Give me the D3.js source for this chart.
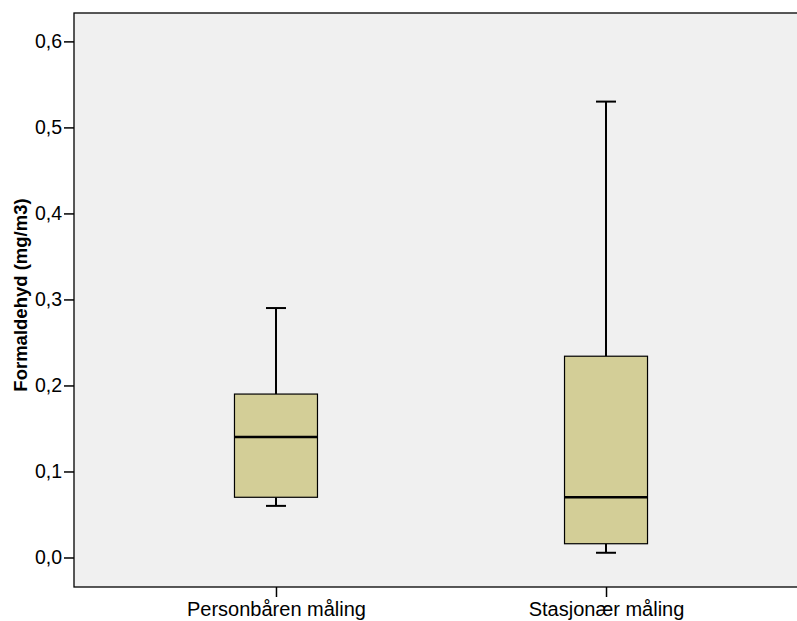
<!DOCTYPE html>
<html><head><meta charset="utf-8">
<script src="https://cdn.jsdelivr.net/npm/d3@7/dist/d3.min.js"></script>
<style>body{margin:0;background:#fff}svg{display:block}</style>
</head><body>
<svg id="c" width="797" height="621"></svg>
<script>
const categories = ["Personbåren måling", "Stasjonær måling"];
const whiskerLow = [0.06, 0.0055];
const q1 = [0.07, 0.016];
const median = [0.14, 0.07];
const q3 = [0.19, 0.234];
const whiskerHigh = [0.29, 0.53];
const yTicks = [0.0, 0.1, 0.2, 0.3, 0.4, 0.5, 0.6];
const yTitle = "Formaldehyd (mg/m3)";

const svg = d3.select("#c");
const L = 74, R = 808, T = 13, B = 587;
const font = "Arial, 'Liberation Sans', sans-serif";

const x = d3.scalePoint().domain(categories).range([L, R]).padding(0.612);
const y = d3.scaleLinear().domain([-0.0343, 0.633]).range([B, T]);

svg.append("rect").attr("x", L).attr("y", T).attr("width", R - L).attr("height", B - T)
  .attr("fill", "#f0f0f0").attr("stroke", "#000").attr("stroke-width", 1.3);

const boxW = 83, capW = 20;
const data = categories.map((c, i) => ({c, lo: whiskerLow[i], q1: q1[i], med: median[i], q3: q3[i], hi: whiskerHigh[i]}));
const g = svg.append("g").selectAll("g").data(data).join("g");
// whiskers
g.append("line").attr("x1", d => x(d.c)).attr("x2", d => x(d.c))
  .attr("y1", d => y(d.hi)).attr("y2", d => y(d.q3)).attr("stroke", "#000").attr("stroke-width", 2);
g.append("line").attr("x1", d => x(d.c)).attr("x2", d => x(d.c))
  .attr("y1", d => y(d.q1)).attr("y2", d => y(d.lo)).attr("stroke", "#000").attr("stroke-width", 2);
g.append("line").attr("x1", d => x(d.c) - capW/2).attr("x2", d => x(d.c) + capW/2)
  .attr("y1", d => y(d.hi)).attr("y2", d => y(d.hi)).attr("stroke", "#000").attr("stroke-width", 2);
g.append("line").attr("x1", d => x(d.c) - capW/2).attr("x2", d => x(d.c) + capW/2)
  .attr("y1", d => y(d.lo)).attr("y2", d => y(d.lo)).attr("stroke", "#000").attr("stroke-width", 2);
// box
g.append("rect").attr("x", d => x(d.c) - boxW/2).attr("width", boxW)
  .attr("y", d => y(d.q3)).attr("height", d => y(d.q1) - y(d.q3))
  .attr("fill", "#d3ce97").attr("stroke", "#000").attr("stroke-width", 1.2);
g.append("line").attr("x1", d => x(d.c) - boxW/2).attr("x2", d => x(d.c) + boxW/2)
  .attr("y1", d => y(d.med)).attr("y2", d => y(d.med)).attr("stroke", "#000").attr("stroke-width", 2.5);

// y axis
const ya = d3.axisLeft(y).tickValues(yTicks).tickSize(10).tickPadding(2)
  .tickFormat(d => d3.format(".1f")(d).replace(".", ","));
const yg = svg.append("g").attr("transform", `translate(${L},0)`).call(ya);
yg.select(".domain").remove();
yg.selectAll("line").attr("stroke", "#000").attr("stroke-width", 1.5);
yg.selectAll("text").attr("font-family", font).attr("font-size", 19.5).attr("fill", "#000");

// x axis
const xa = d3.axisBottom(x).tickSize(10).tickPadding(5);
const xg = svg.append("g").attr("transform", `translate(0,${B})`).call(xa);
xg.select(".domain").remove();
xg.selectAll("line").attr("stroke", "#000").attr("stroke-width", 1.5);
xg.selectAll("text").attr("font-family", font).attr("font-size", 20).attr("fill", "#000");

svg.append("text").attr("transform", "translate(27,295) rotate(-90)")
  .attr("text-anchor", "middle").attr("font-family", font).attr("font-weight", "bold")
  .attr("font-size", 18.5).attr("fill", "#000").text(yTitle);
</script>
</body></html>
